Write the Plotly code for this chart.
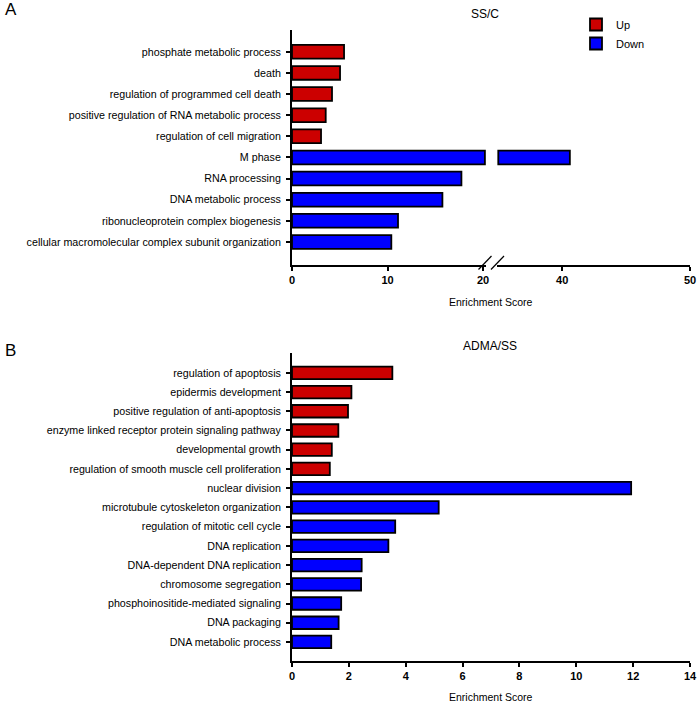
import plotly.graph_objects as go

# ---------------- data ----------------
top_up_terms = ["phosphate metabolic process", "death", "regulation of programmed cell death",
                "positive regulation of RNA metabolic process", "regulation of cell migration"]
top_up_scores = [5.45, 5.03, 4.19, 3.53, 3.04]
top_down_terms = ["M phase", "RNA processing", "DNA metabolic process",
                  "ribonucleoprotein complex biogenesis",
                  "cellular macromolecular complex subunit organization"]
top_down_scores = [40.6, 17.74, 15.75, 11.1, 10.4]

bot_up_terms = ["regulation of apoptosis", "epidermis development",
                "positive regulation of anti-apoptosis",
                "enzyme linked receptor protein signaling pathway", "developmental growth",
                "regulation of smooth muscle cell proliferation"]
bot_up_scores = [3.53, 2.09, 1.97, 1.63, 1.40, 1.33]
bot_down_terms = ["nuclear division", "microtubule cytoskeleton organization",
                  "regulation of mitotic cell cycle", "DNA replication",
                  "DNA-dependent DNA replication", "chromosome segregation",
                  "phosphoinositide-mediated signaling", "DNA packaging", "DNA metabolic process"]
bot_down_scores = [11.93, 5.16, 3.63, 3.39, 2.45, 2.43, 1.73, 1.64, 1.38]

top_ticks_low = [0, 10, 20]
top_ticks_high = [40, 50]
bot_ticks = [0, 2, 4, 6, 8, 10, 12, 14]

BREAK_LOW = 20.2   # axis break: lower segment ends
BREAK_HIGH = 35.0  # axis break: upper segment starts

RED = "#CC0000"
BLUE = "#0000FF"
FONT = "Liberation Sans, Arial, sans-serif"

W, H = 697, 703
PL, PR = 292, 690          # plot area left/right in page pixels
L, R = PL, W - PR
PW = PR - PL


def px(x):
    return (x - PL) / PW


def py(y):
    return 1 - y / H


top_terms = top_up_terms + top_down_terms
bot_terms = bot_up_terms + bot_down_terms

fig = go.Figure()
bar_line = dict(color="black", width=1.8)

# top panel, lower segment
fig.add_trace(go.Bar(y=top_up_terms, x=[min(v, BREAK_LOW) for v in top_up_scores], orientation="h",
                     marker=dict(color=RED, line=bar_line), width=0.65, name="Up",
                     xaxis="x", yaxis="y", showlegend=True))
fig.add_trace(go.Bar(y=top_down_terms, x=[min(v, BREAK_LOW) for v in top_down_scores], orientation="h",
                     marker=dict(color=BLUE, line=bar_line), width=0.65, name="Down",
                     xaxis="x", yaxis="y", showlegend=True))
# top panel, upper segment (only bars beyond the break)
hi_terms = [t for t, v in zip(top_down_terms, top_down_scores) if v > BREAK_LOW]
hi_vals = [v - BREAK_HIGH for v in top_down_scores if v > BREAK_LOW]
fig.add_trace(go.Bar(y=hi_terms, x=hi_vals, base=BREAK_HIGH, orientation="h",
                     marker=dict(color=BLUE, line=bar_line), width=0.65, name="Down",
                     xaxis="x2", yaxis="y", showlegend=False))
# bottom panel
fig.add_trace(go.Bar(y=bot_up_terms, x=bot_up_scores, orientation="h",
                     marker=dict(color=RED, line=bar_line), width=0.65, name="Up",
                     xaxis="x3", yaxis="y2", showlegend=False))
fig.add_trace(go.Bar(y=bot_down_terms, x=bot_down_scores, orientation="h",
                     marker=dict(color=BLUE, line=bar_line), width=0.65, name="Down",
                     xaxis="x3", yaxis="y2", showlegend=False))

axis_common = dict(showline=True, linecolor="black", linewidth=2, ticks="outside",
                   ticklen=4, tickwidth=1.5, tickcolor="black", showgrid=False,
                   zeroline=False, automargin=False,
                   tickfont=dict(family=FONT, size=10.7, color="black"))
xtickfont = dict(family=FONT, size=11, color="black", weight="bold")

low_dom_end = px(292 + 20.35 * 9.55)
fig.update_layout(
    width=W, height=H,
    margin=dict(l=L, r=R, t=0, b=0, pad=0),
    plot_bgcolor="white", paper_bgcolor="white",
    barmode="overlay",
    font=dict(family=FONT, size=11, color="black"),
    xaxis=dict(axis_common, domain=[0, low_dom_end], range=[0, 20.35], tickvals=top_ticks_low,
               anchor="y", tickfont=xtickfont),
    xaxis2=dict(axis_common, domain=[px(497), 1], range=[34.9, 50], tickvals=top_ticks_high,
                anchor="y", tickfont=xtickfont),
    yaxis=dict(axis_common, domain=[py(265), py(30)], type="category",
               categoryorder="array", categoryarray=top_terms,
               range=[len(top_terms) - 1 + 1.09, -1.03], anchor="x", ticklabelstandoff=3),
    xaxis3=dict(axis_common, domain=[0, 1], range=[0, 14], tickvals=bot_ticks, anchor="y2",
                tickfont=xtickfont),
    yaxis2=dict(axis_common, domain=[py(661), py(353)], type="category",
                categoryorder="array", categoryarray=bot_terms,
                range=[len(bot_terms) - 1 + 0.99, -1.03], anchor="x3", ticklabelstandoff=3),
    legend=dict(x=px(576), y=py(10), xanchor="left", yanchor="top",
                font=dict(family=FONT, size=11, color="black"),
                bgcolor="rgba(0,0,0,0)", tracegroupgap=0, itemwidth=30),
    showlegend=True,
)

ann = [
    dict(text="A", x=px(3), y=py(10), xanchor="left", yanchor="middle", font=dict(size=17)),
    dict(text="B", x=px(3), y=py(350), xanchor="left", yanchor="middle", font=dict(size=17)),
    dict(text="SS/C", x=px(485), y=py(14), xanchor="center", yanchor="middle", font=dict(size=12)),
    dict(text="ADMA/SS", x=px(490), y=py(346), xanchor="center", yanchor="middle", font=dict(size=12)),
    dict(text="Enrichment Score", x=px(491), y=py(302), xanchor="center", yanchor="middle", font=dict(size=10.5)),
    dict(text="Enrichment Score", x=px(491), y=py(697), xanchor="center", yanchor="middle", font=dict(size=10.5)),
]
for a in ann:
    a.update(xref="paper", yref="paper", showarrow=False)
    a["font"] = dict(family=FONT, color="black", **a["font"])
fig.update_layout(annotations=ann)

# axis-break marks
for x0 in (478.5, 491.0):
    fig.add_shape(type="line", xref="paper", yref="paper",
                  x0=px(x0), y0=py(269.5), x1=px(x0 + 13), y1=py(256),
                  line=dict(color="black", width=1.2))

fig.write_html("out.html", config={"displayModeBar": False},
               post_script="document.body.style.margin='0px';document.body.style.overflow='hidden';")
